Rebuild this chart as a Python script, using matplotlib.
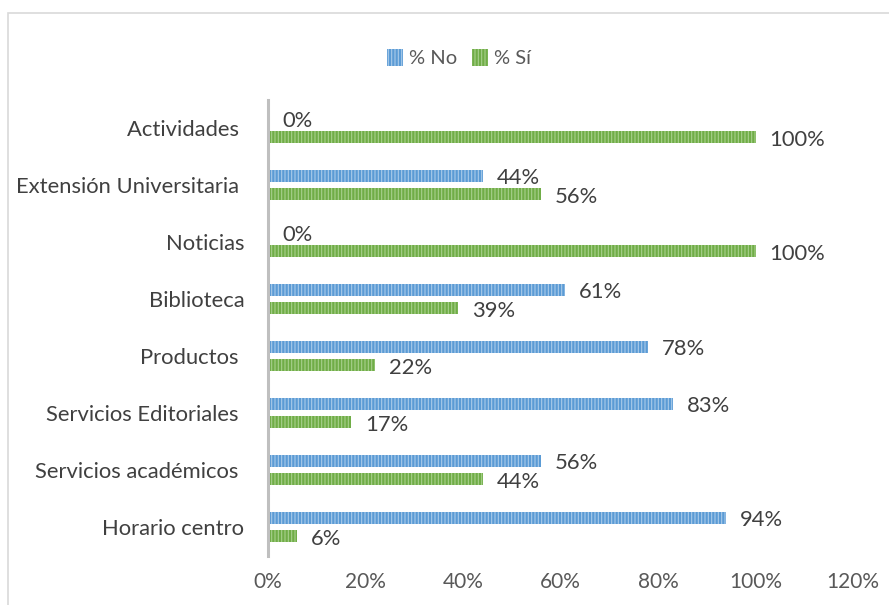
import numpy as np
import matplotlib.pyplot as plt
from matplotlib.patches import Rectangle, Patch

plt.rcParams['font.family'] = ['Lato', 'DejaVu Sans']
plt.rcParams['hatch.linewidth'] = 0.8

# data, top to bottom as in the chart
categories = ['Actividades ', 'Extensión Universitaria ', 'Noticias', 'Biblioteca',
              'Productos ', 'Servicios Editoriales ', 'Servicios académicos ', 'Horario centro']
pct_no = [0, 44, 0, 61, 78, 83, 56, 94]
pct_si = [100, 56, 100, 39, 22, 17, 44, 6]
xticks = [0, 20, 40, 60, 80, 100, 120]

blue = '#5B9BD5'
green = '#70AD47'
txt = '#404040'

fig = plt.figure(figsize=(8.89, 6.05), dpi=100)
ax = fig.add_axes([268/889, 1 - 555.5/605, (853-268)/889, (555.5-99.5)/605])

# frame around the chart area
fig.patches.append(Rectangle((8/889, -0.05), 1.05, 1.05 - 13/605, transform=fig.transFigure,
                             fill=False, edgecolor='#D9D9D9', linewidth=1.2))

y = np.arange(len(categories))[::-1]
h = 0.22
off = 0.158

ax.barh(y + off, pct_no, height=h, color=blue, edgecolor='#A9CBEA',
        linewidth=0, hatch='|||||')
ax.barh(y - off, pct_si, height=h, color=green, edgecolor='#A8D08D',
        linewidth=0, hatch='|||||')

for yy, v in zip(y + off, pct_no):
    ax.annotate(f'{v}%', (v, yy), xytext=(10, -1.5), textcoords='offset points',
                va='center', ha='left', fontsize=15.8, color=txt)
for yy, v in zip(y - off, pct_si):
    ax.annotate(f'{v}%', (v, yy), xytext=(10, -2.5), textcoords='offset points',
                va='center', ha='left', fontsize=15.8, color=txt)

ax.set_xlim(0, 120)
ax.set_ylim(-0.5, len(categories) - 0.5)
ax.set_yticks(y)
ax.set_yticklabels(categories, fontsize=15.8, color=txt)
ax.set_xticks(xticks)
ax.set_xticklabels([f'{t}%' for t in xticks], fontsize=15, color='#595959')
ax.tick_params(axis='both', length=0)
ax.tick_params(axis='x', pad=12)
ax.tick_params(axis='y', pad=17)

for s in ['top', 'right', 'bottom']:
    ax.spines[s].set_visible(False)
ax.spines['left'].set_color('#BFBFBF')
ax.spines['left'].set_linewidth(2.2)

handles = [Patch(facecolor=blue, edgecolor='#A9CBEA', linewidth=0, hatch='|||||', label='% No'),
           Patch(facecolor=green, edgecolor='#A8D08D', linewidth=0, hatch='|||||', label='% Sí')]
leg = fig.legend(handles=handles, loc='center', bbox_to_anchor=(459/889, 1 - 58/605), ncol=2,
                 frameon=False, fontsize=14.5, handlelength=0.8, handleheight=0.9,
                 handletextpad=0.3, columnspacing=0.7)
for t in leg.get_texts():
    t.set_color('#595959')

fig.savefig('out.png', dpi=100)
